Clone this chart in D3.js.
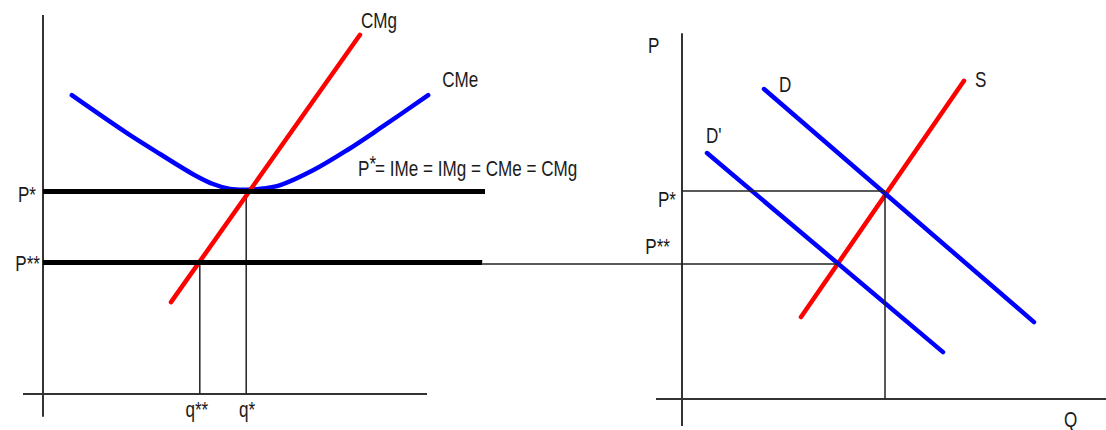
<!DOCTYPE html>
<html>
<head>
<meta charset="utf-8">
<script src="https://cdn.jsdelivr.net/npm/d3@7"></script>
<style>
  html, body { margin: 0; background: #fff; }
  svg { display: block; }
  text { font-family: "Liberation Sans", Arial, sans-serif; font-size: 18px; fill: #1b1b1b; }
</style>
</head>
<body>
<svg id="chart" width="1106" height="430"></svg>
<script>
// ---- Firm (left panel) ----
const priceLevels = [5.33, 3.46];            // P*, P**
const priceLabels = ["P*", "P**"];
const firmQuantities = [5.08, 3.92];         // q*, q**
const firmQuantityLabels = ["q*", "q**"];
const cmgLine = [[3.2, 2.42], [7.925, 9.46]];  // marginal cost
const cmePoints = [                          // average cost (U shape)
  [0.72, 7.87], [2.1, 6.87], [2.925, 6.32], [3.75, 5.79], [4.25, 5.53],
  [4.675, 5.40], [5.1, 5.38], [5.5, 5.41], [5.93, 5.5],
  [6.75, 5.89], [7.6, 6.42], [8.43, 7.0], [9.63, 7.87]
];
const formulaLabel = ["P", "*", "= IMe = IMg = CMe = CMg"];

// ---- Market (right panel) ----
const supplyLine = [[2.975, 2.10], [7.05, 8.15]];
const demandLine = [[2.05, 7.94], [8.8, 1.97]];
const demandShiftLine = [[0.625, 6.30], [6.525, 1.20]];
const marketQuantities = [5.075, 3.89];      // equilibrium Q for D and D'
const marketCurveLabels = ["S", "D", "D'"];
const marketAxisLabels = ["P", "Q"];

const svg = d3.select("#chart");

const xL = d3.scaleLinear([0, 10], [43, 443]);
const yL = d3.scaleLinear([0, 10], [394, 14.3]);
const xR = d3.scaleLinear([0, 10], [682, 1082]);
const yR = d3.scaleLinear([0, 10], [399, 8.6]);

const lineL = d3.line().x(d => xL(d[0])).y(d => yL(d[1]));
const lineR = d3.line().x(d => xR(d[0])).y(d => yR(d[1]));

const AXIS = "#333";
const GUIDE = "#222";

function seg(g, line, pts, stroke, width, cap) {
  return g.append("path")
    .attr("d", line(pts))
    .attr("fill", "none")
    .attr("stroke", stroke)
    .attr("stroke-width", width)
    .attr("stroke-linecap", cap || "butt");
}

// text set slightly tall and narrow, like the lettering of the diagram
function label(g, x, y, str, anchor) {
  return g.append("text")
    .attr("transform", `translate(${x},${y}) scale(0.95,1.18)`)
    .attr("text-anchor", anchor || "start")
    .text(str);
}

// ===== Left panel =====
const gL = svg.append("g");

// axes
seg(gL, lineL, [[0, 9.98], [0, -0.6]], AXIS, 2);
seg(gL, lineL, [[-0.5, 0], [9.6, 0]], AXIS, 2);

// drop lines to q* and q**
firmQuantities.forEach((q, i) => {
  seg(gL, lineL, [[q, priceLevels[i]], [q, 0]], GUIDE, 1.5);
});

// cost curves
seg(gL, d3.line().x(d => xL(d[0])).y(d => yL(d[1])).curve(d3.curveCatmullRom), cmePoints, "#0000ff", 4.5, "round");
seg(gL, lineL, cmgLine, "#ff0000", 4.5, "round");

// price lines (IMe = IMg)
const thickEnds = [11.05, 10.98];
priceLevels.forEach((p, i) => {
  seg(gL, lineL, [[0, p], [thickEnds[i], p]], "#000", 5, "butt");
});

// labels
label(gL, xL(0) - 7, yL(priceLevels[0]) + 10, priceLabels[0], "end");
label(gL, xL(0) - 3, yL(priceLevels[1]) + 8, priceLabels[1], "end");
label(gL, xL(firmQuantities[0]) + 1, 417, firmQuantityLabels[0], "middle");
label(gL, xL(firmQuantities[1]) - 3, 417, firmQuantityLabels[1], "middle");
label(gL, xL(cmgLine[1][0]) + 1, yL(cmgLine[1][1]) - 7, "CMg");
const lastCme = cmePoints[cmePoints.length - 1];
label(gL, xL(lastCme[0]) + 14, yL(lastCme[1]) - 8, "CMe");

const formula = gL.append("text")
  .attr("transform", "translate(358,176) scale(0.95,1.18)");
formula.append("tspan").text(formulaLabel[0]);
formula.append("tspan").attr("dy", -4).text(formulaLabel[1]);
formula.append("tspan").attr("dy", 4).attr("dx", -1).text(formulaLabel[2]);

// ===== Right panel =====
const gR = svg.append("g");

seg(gR, lineR, [[0, 9.37], [0, -0.69]], AXIS, 2);
seg(gR, lineR, [[-0.65, 0], [10.7, 0]], AXIS, 2);

// supply and demand
seg(gR, lineR, supplyLine, "#ff0000", 4.5, "round");
seg(gR, lineR, demandLine, "#0000ff", 4.5, "round");
seg(gR, lineR, demandShiftLine, "#0000ff", 4.5, "round");

// guides: P* to the equilibrium and down to Q; P** from the firm panel across
seg(gR, lineR, [[0, priceLevels[0]], [marketQuantities[0], priceLevels[0]]], GUIDE, 1.5);
seg(gR, lineR, [[marketQuantities[0], priceLevels[0]], [marketQuantities[0], 0]], GUIDE, 1.5);
seg(gR, lineR, [[xR.invert(xL(thickEnds[1])), priceLevels[1]], [marketQuantities[1], priceLevels[1]]], GUIDE, 1.5);

// labels
label(gR, xR(0) - 34, 53, marketAxisLabels[0]);
label(gR, 1064, 427, marketAxisLabels[1]);
label(gR, xR(supplyLine[1][0]) + 11, yR(supplyLine[1][1]) + 6, marketCurveLabels[0]);
label(gR, xR(demandLine[0][0]) + 15, yR(demandLine[0][1]) + 3, marketCurveLabels[1]);
label(gR, xR(demandShiftLine[0][0]) - 1, yR(demandShiftLine[0][1]) - 10, marketCurveLabels[2]);
label(gR, xR(0) - 6, yR(priceLevels[0]) + 16, priceLabels[0], "end");
label(gR, xR(0) - 12, yR(priceLevels[1]) - 10, priceLabels[1], "end");
</script>
</body>
</html>
